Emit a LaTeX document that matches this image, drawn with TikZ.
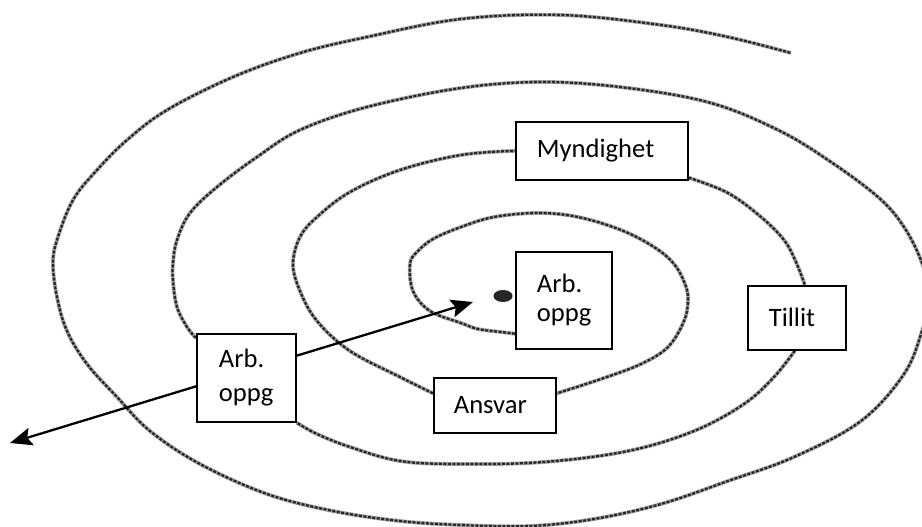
\documentclass[tikz,border=0pt]{standalone}
\usepackage{fontspec}
\setmainfont{Carlito}
\usetikzlibrary{arrows.meta,backgrounds,shapes.geometric}
\begin{document}
\begin{tikzpicture}[x=1pt,y=-1pt,
  lbl/.style={draw=black, line width=1.7pt, fill=white, anchor=north west, align=left,
              inner ysep=0pt, font=\fontsize{26.6}{31}\selectfont},
  spiral/.style={draw=black!85, line width=2.3pt, dash pattern=on 3pt off 1.5pt,
              preaction={draw=black!35, line width=3.8pt, solid}},
  link/.style={line width=2.3pt, arrows={Stealth[length=22pt,width=18pt,inset=4pt]-Stealth[length=22pt,width=18pt,inset=4pt]}}]
\useasboundingbox (0,0) rectangle (922,527);

% boxes
\node[lbl, minimum width=172pt, minimum height=58pt, inner xsep=21pt, text width=130pt] (myn) at (515,121) {Myndighet};
\node[lbl, minimum width=96pt, minimum height=97pt, inner xsep=21pt, text width=54pt,
      font=\fontsize{26.6}{29}\selectfont] (ctr) at (515,251) {Arb.\\oppg};
\node[lbl, minimum width=98pt, minimum height=64pt, inner xsep=21pt, text width=56pt] (til) at (747,285) {Tillit};
\node[lbl, minimum width=122pt, minimum height=55pt, inner xsep=20pt, text width=82pt] (ans) at (433,377) {Ansvar};
\node[lbl, minimum width=99pt, minimum height=88pt, inner xsep=22pt, text width=55pt,
      font=\fontsize{26.6}{34}\selectfont] (lft) at (196,333) {Arb.\\oppg};

% centre dot
\node[ellipse, fill=black!85, minimum width=19pt, minimum height=12pt, inner sep=0pt] (dot) at (503,296) {};

% arrow ends and spiral end
\coordinate (aL) at (10,443);
\coordinate (aR) at (473,302);
\coordinate (send) at (791,53);

\begin{scope}[on background layer]
  % spiral, segment by segment between the boxes
  \draw[spiral] plot[smooth, tension=0.6] coordinates {
    ([yshift=16pt]ctr.south west) (501,332) (478,329) (461,323) (430,311) (413,291)
    (410,264) (417,252) (433,239) (461,227) (494,217) (538,213) (578,217) (621,230)
    (654,247) (674,264) (685,284) (688,300) (684,321) (668,347) (641,364) (601,379)
    ([yshift=12pt]ans.east)};
  \draw[spiral] plot[smooth, tension=0.6] coordinates {
    ([yshift=12pt]ans.west) (400,377) (350,351) (317,321) (300,291) (293,264) (300,237)
    (317,217) (350,192) (400,170) (461,155) (myn.west)};
  \draw[spiral] plot[smooth, tension=0.6] coordinates {
    ([yshift=3pt]myn.south east) (728,193) (761,217) (784,240) (796,262) ([xshift=8pt]til.north)};
  \draw[spiral] plot[smooth, tension=0.6] coordinates {
    ([xshift=-2pt]til.south) (774,377) (744,404) (694,431) (628,451) (544,462) (461,464)
    (400,461) (350,447) (317,434) (lft.south east)};
  \draw[spiral] plot[smooth, tension=0.6] coordinates {
    ([yshift=-5pt]lft.north west) (187,327) (177,307) (173,281) (173,263) (177,240) (190,213)
    (217,187) (257,157) (300,130) (367,107) (461,88) (544,82) (628,88) (711,103) (778,130)
    (828,160) (878,197) (904,227) (922,263) (930,297) (922,331) (904,374) (861,421)
    (794,457) (728,481) (661,504) (594,519) (530,526) (461,525) (400,521) (333,511)
    (267,494) (200,464) (150,431) (117,397) (87,364) (67,331) (57,297) (53,264) (57,240)
    (73,200) (97,170) (127,140) (167,110) (233,77) (300,53) (367,37) (461,19) (561,15)
    (661,25) (728,37) (send)};
  % double arrow
  \draw[link] (aL) -- (aR);
\end{scope}
\end{tikzpicture}
\end{document}
